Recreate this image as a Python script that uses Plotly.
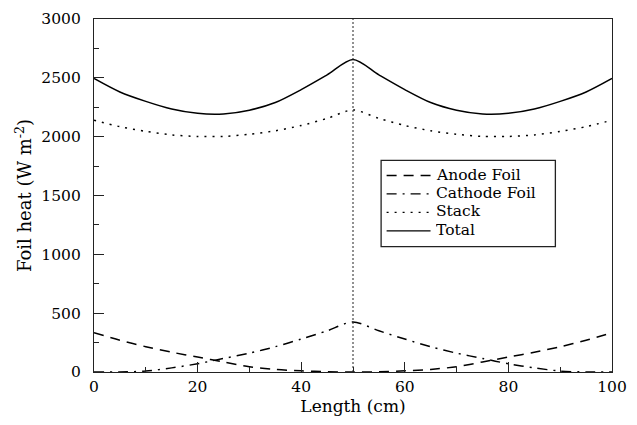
import plotly.graph_objects as go

length_cm = [0, 5, 10, 15, 20, 25, 30, 35, 40, 45, 50,
             55, 60, 65, 70, 75, 80, 85, 90, 95, 100]
anode_foil = [334, 270, 215, 168, 127, 85, 45, 22, 10, 2, 0,
              2, 10, 22, 45, 85, 127, 168, 215, 270, 334]
cathode_foil = [0, 0, 8, 35, 70, 115, 160, 215, 280, 350, 425,
                350, 280, 215, 160, 115, 70, 35, 8, 0, 0]
stack = [2140, 2085, 2045, 2015, 2002, 2002, 2020, 2050, 2095, 2155, 2227,
         2155, 2095, 2050, 2020, 2002, 2002, 2015, 2045, 2085, 2140]
total = [2495, 2380, 2300, 2235, 2198, 2193, 2225, 2290, 2400, 2525, 2655,
         2525, 2400, 2290, 2225, 2193, 2198, 2235, 2300, 2380, 2495]
series_names = ["Anode Foil", "Cathode Foil", "Stack", "Total"]
divider_x = 50

FONT = "DejaVu Serif"
dashes = ["10px,7px", "10px,6px,2px,6px", "2px,6px", "solid"]

fig = go.Figure()
for name, vals, dash in zip(series_names, [anode_foil, cathode_foil, stack, total], dashes):
    fig.add_trace(go.Scatter(x=length_cm, y=vals, mode="lines", name=name, showlegend=False,
                             line=dict(color="black", width=1.5, dash=dash,
                                       shape="spline", smoothing=0.8)))

fig.add_shape(type="line", xref="x", yref="paper", x0=divider_x, x1=divider_x,
              y0=0, y1=1, line=dict(color="#222", width=1, dash="2px,2px"))

# manual legend (pixel layout converted to paper coordinates)
L, R, T, B = 94, 612.7, 10, 372
def px(x): return (x - L) / (R - L)
def py(y): return (B - y) / (B - T)

fig.add_shape(type="rect", xref="paper", yref="paper",
              x0=px(381.5), x1=px(556), y0=py(243.5), y1=py(155),
              line=dict(color="#222", width=1.3), fillcolor="white", layer="above")
row_y = [170.5, 189.3, 208.3, 227.3]
for name, dash, yy in zip(series_names, dashes, row_y):
    fig.add_shape(type="line", xref="paper", yref="paper",
                  x0=px(387), x1=px(431), y0=py(yy), y1=py(yy),
                  line=dict(color="black", width=1.4, dash=dash), layer="above")
    fig.add_annotation(xref="paper", yref="paper", x=px(434), y=py(yy - 1),
                       text=name, showarrow=False, xanchor="left", yanchor="middle",
                       height=18, valign="middle",
                       font=dict(family=FONT, size=15.5, color="black"))

axis_common = dict(showgrid=False, zeroline=False, showline=True, linecolor="#222",
                   linewidth=1.3, mirror=True, ticks="inside", ticklen=10,
                   tickwidth=1, tickcolor="#222", ticklabeloverflow="allow",
                   tickfont=dict(family=FONT, size=15.5, color="black"))
fig.update_xaxes(range=[0, 100], dtick=20, tick0=0,
                 minor=dict(ticks="inside", ticklen=5, dtick=10, tickcolor="#222"),
                 title=dict(text="Length (cm)", font=dict(family=FONT, size=17, color="black"),
                            standoff=5),
                 **axis_common)
fig.update_yaxes(range=[0, 3000], dtick=500, tick0=0, ticklabelstandoff=9,
                 minor=dict(ticks="inside", ticklen=5, dtick=250, tickcolor="#222"),
                 title=dict(text="Foil heat (W m<sup>-2</sup>)",
                            font=dict(family=FONT, size=18, color="black"), standoff=4),
                 **axis_common)

fig.update_layout(
    width=637, height=425,
    margin=dict(l=94, r=24, t=10, b=53),
    paper_bgcolor="white", plot_bgcolor="white",
    showlegend=False,
)
fig.write_html("out.html")
